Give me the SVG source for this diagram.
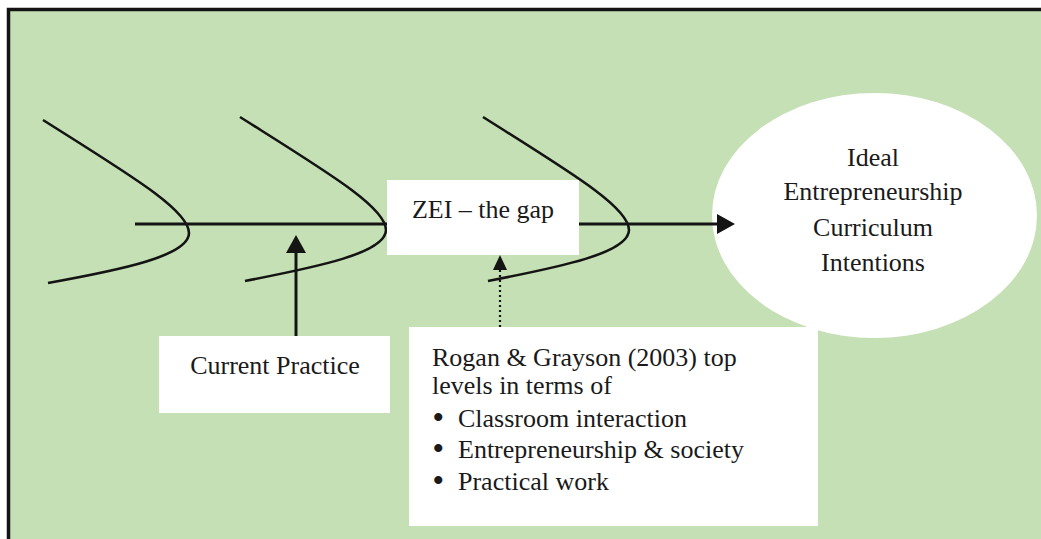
<svg xmlns="http://www.w3.org/2000/svg" width="1041" height="539" viewBox="0 0 1041 539">
<style>
.frame{fill:#C5E0B4;stroke:#141414;stroke-width:3.5}
.bone{fill:none;stroke:#141414;stroke-width:2.6}
.line{stroke:#141414;stroke-width:3;fill:none}
.dot{stroke:#141414;stroke-width:2.2;stroke-dasharray:2 3;fill:none}
.box{fill:#ffffff}
text{font-family:"Liberation Serif","Times New Roman",serif;font-size:26px;fill:#1a1a1a}
.c{text-anchor:middle}
.b{font-size:30px;font-weight:bold}
</style>
<defs>
<marker id="ah" markerUnits="userSpaceOnUse" markerWidth="20" markerHeight="20" viewBox="0 0 20 20" refX="3" refY="10" orient="auto"><path d="M0,0 L18,10 L0,20 Z" fill="#141414"/></marker>
<marker id="ah2" markerUnits="userSpaceOnUse" markerWidth="16" markerHeight="16" viewBox="0 0 16 16" refX="2" refY="7" orient="auto"><path d="M0,0 L15,7 L0,14 Z" fill="#141414"/></marker>
</defs>
<rect x="0" y="0" width="1041" height="539" fill="#ffffff"/>
<rect class="frame" x="8.5" y="9.5" width="1100" height="600"/>
<g id="bones">
<path class="bone" d="M43,120 C130,175 189,210 189,233 C189,256 120,270 48,283"/>
<path class="bone" d="M240,117 C327,172 386,207 386,230 C386,253 317,267 245,281"/>
<path class="bone" d="M483,117 C570,172 629,207 629,230 C629,253 560,267 488,281"/>
</g>
<g id="zei">
<rect class="box" x="387" y="180" width="192" height="75"/>
<text class="c" x="483" y="218">ZEI – the gap</text>
</g>
<g id="ideal">
<ellipse class="box" cx="874.5" cy="215.5" rx="162.5" ry="122.5"/>
<text class="c" x="873" y="166">Ideal</text>
<text class="c" x="873" y="200">Entrepreneurship</text>
<text class="c" x="873" y="236">Curriculum</text>
<text class="c" x="873" y="271">Intentions</text>
</g>
<g id="current">
<rect class="box" x="159" y="336" width="231" height="77"/>
<text class="c" x="275" y="374">Current Practice</text>
</g>
<g id="rogan">
<rect class="box" x="409" y="327" width="409" height="199"/>
<text x="432" y="366">Rogan &amp; Grayson (2003) top</text>
<text x="432" y="394">levels in terms of</text>
<text x="433" y="427"><tspan class="b">•</tspan><tspan x="458">Classroom interaction</tspan></text>
<text x="433" y="458"><tspan class="b">•</tspan><tspan x="458">Entrepreneurship &amp; society</tspan></text>
<text x="433" y="490"><tspan class="b">•</tspan><tspan x="458">Practical work</tspan></text>
</g>
<g id="connectors">
<line class="line" x1="135" y1="224" x2="387" y2="224"/>
<line class="line" x1="579" y1="224" x2="720" y2="224" marker-end="url(#ah)"/>
<line class="line" x1="296" y1="336" x2="296" y2="250" marker-end="url(#ah)"/>
<line class="dot" x1="500" y1="327" x2="500" y2="268" marker-end="url(#ah2)"/>
</g>
</svg>
